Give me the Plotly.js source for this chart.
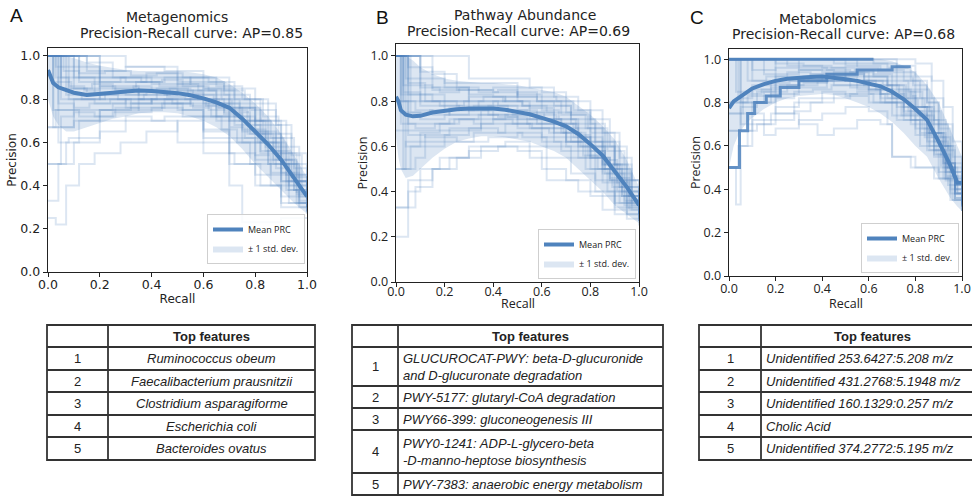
<!DOCTYPE html>
<html><head><meta charset="utf-8">
<script src="https://cdn.plot.ly/plotly-3.0.1.min.js"></script>
<style>html,body{margin:0;padding:0;background:#fff}#chart{width:972px;height:497px}</style>
</head><body><div id="chart"></div>
<script>
// ---------------- DATA ----------------
const panelLetters = ['A', 'B', 'C'];
const panelNames = ['Metagenomics', 'Pathway Abundance', 'Metabolomics'];
const apScores = [0.85, 0.69, 0.68];
const xTitle = 'Recall', yTitle = 'Precision';

// mean PR curve and +/- 1 std band
const recallA = [0,0.01,0.02,0.04,0.07,0.1,0.15,0.2,0.25,0.3,0.35,0.4,0.45,0.5,0.55,0.6,0.65,0.7,0.75,0.8,0.85,0.9,0.95,1.0];
const meanA  = [0.935,0.9,0.875,0.855,0.84,0.83,0.82,0.823,0.83,0.836,0.84,0.838,0.834,0.828,0.818,0.804,0.785,0.76,0.71,0.65,0.59,0.52,0.435,0.35];
const upperA = [1,1,1,1,1,0.99,0.97,0.955,0.945,0.935,0.93,0.93,0.93,0.93,0.925,0.915,0.9,0.87,0.83,0.78,0.72,0.64,0.54,0.44];
const lowerA = [0.8,0.76,0.72,0.68,0.65,0.65,0.67,0.69,0.71,0.72,0.735,0.74,0.74,0.735,0.72,0.7,0.67,0.63,0.57,0.5,0.44,0.38,0.32,0.27];

const recallB = [0,0.01,0.02,0.04,0.07,0.1,0.15,0.2,0.25,0.3,0.35,0.4,0.45,0.5,0.55,0.6,0.65,0.7,0.75,0.8,0.85,0.9,0.95,1.0];
const meanB  = [0.82,0.8,0.76,0.74,0.733,0.735,0.75,0.758,0.764,0.768,0.77,0.768,0.762,0.752,0.742,0.726,0.71,0.689,0.655,0.61,0.56,0.49,0.42,0.34];
const upperB = [1,1,1,1,0.98,0.95,0.92,0.9,0.89,0.885,0.88,0.88,0.875,0.87,0.86,0.85,0.84,0.82,0.78,0.74,0.69,0.63,0.54,0.42];
const lowerB = [0.64,0.55,0.5,0.46,0.47,0.5,0.55,0.59,0.62,0.635,0.645,0.645,0.64,0.63,0.62,0.6,0.58,0.55,0.5,0.45,0.4,0.34,0.3,0.26];

const recallC = [0,0.01,0.02,0.04,0.07,0.1,0.15,0.2,0.25,0.3,0.35,0.4,0.45,0.5,0.55,0.6,0.65,0.7,0.75,0.8,0.85,0.9,0.95,0.98,1.0];
const meanC  = [0.774,0.79,0.805,0.82,0.845,0.865,0.885,0.9,0.91,0.915,0.918,0.92,0.916,0.908,0.9,0.888,0.875,0.85,0.815,0.77,0.72,0.62,0.51,0.43,0.43];
const upperC = [1,1,1,1,1,1,1,1,1,1,1,1,1,1,1,1,1,0.99,0.97,0.94,0.88,0.8,0.68,0.6,0.55];
const lowerC = [0.5,0.55,0.6,0.65,0.7,0.73,0.77,0.8,0.82,0.83,0.835,0.84,0.835,0.82,0.8,0.78,0.75,0.71,0.66,0.6,0.55,0.45,0.36,0.32,0.3];

// individual cross-validation PR curves, [recall, precision] step points
const curvesA = [
  [[0,1],[0.15,0.93],[0.3,0.95],[0.5,0.9],[0.62,0.88],[0.72,0.8],[0.82,0.7],[0.9,0.55],[0.96,0.42],[1,0.42]],
  [[0,1],[0.05,0.8],[0.2,0.82],[0.35,0.85],[0.5,0.83],[0.6,0.78],[0.7,0.72],[0.8,0.6],[0.9,0.45],[0.97,0.33],[1,0.33]],
  [[0,0.5],[0.05,0.67],[0.1,0.75],[0.25,0.78],[0.4,0.8],[0.55,0.77],[0.65,0.7],[0.75,0.6],[0.85,0.5],[0.93,0.38],[0.97,0.3],[1,0.3]],
  [[0,1],[0.1,1],[0.2,0.9],[0.3,0.88],[0.45,0.9],[0.55,0.87],[0.68,0.82],[0.78,0.75],[0.88,0.62],[0.95,0.48],[1,0.4]],
  [[0,0.25],[0.03,0.22],[0.07,0.4],[0.12,0.5],[0.18,0.55],[0.28,0.6],[0.38,0.65],[0.5,0.7],[0.6,0.65],[0.7,0.55],[0.8,0.45],[0.9,0.35],[1,0.3]],
  [[0,0.33],[0.04,0.5],[0.1,0.6],[0.2,0.65],[0.3,0.7],[0.45,0.72],[0.6,0.62],[0.7,0.5],[0.8,0.4],[0.9,0.3],[1,0.27]],
  [[0,1],[0.02,0.67],[0.1,0.7],[0.2,0.75],[0.35,0.8],[0.5,0.8],[0.62,0.75],[0.72,0.68],[0.82,0.55],[0.9,0.42],[1,0.33]],
  [[0,1],[0.3,0.95],[0.45,0.93],[0.6,0.9],[0.7,0.85],[0.8,0.78],[0.88,0.68],[0.94,0.55],[1,0.45]],
  [[0,1],[0.05,0.85],[0.15,0.83],[0.3,0.84],[0.45,0.82],[0.58,0.8],[0.68,0.74],[0.78,0.64],[0.87,0.52],[0.95,0.38],[1,0.35]],
  [[0,1],[0.08,0.8],[0.18,0.78],[0.3,0.8],[0.42,0.85],[0.55,0.84],[0.65,0.78],[0.74,0.7],[0.84,0.58],[0.92,0.45],[1,0.37]],
  [[0,1],[0.02,0.75],[0.12,0.72],[0.25,0.74],[0.4,0.76],[0.52,0.72],[0.6,0.66],[0.7,0.6],[0.78,0.5],[0.86,0.4],[0.93,0.32],[1,0.28]],
  [[0,1],[0.2,0.9],[0.35,0.9],[0.5,0.88],[0.6,0.85],[0.7,0.78],[0.8,0.68],[0.9,0.5],[0.96,0.37],[1,0.37]],
  [[0,1],[0.1,0.95],[0.2,0.86],[0.35,0.82],[0.5,0.84],[0.6,0.82],[0.7,0.76],[0.8,0.65],[0.88,0.55],[0.94,0.42],[1,0.32]],
  [[0,1],[0.05,0.9],[0.2,0.85],[0.35,0.8],[0.5,0.75],[0.6,0.6],[0.7,0.4],[0.75,0.23],[0.85,0.23],[0.9,0.25],[1,0.25]],
  [[0,1],[0.04,0.6],[0.08,0.62],[0.2,0.7],[0.3,0.72],[0.4,0.7],[0.5,0.6],[0.6,0.55],[0.72,0.5],[0.82,0.4],[0.9,0.32],[1,0.28]],
  [[0,1],[0.15,0.97],[0.25,0.9],[0.4,0.87],[0.55,0.9],[0.65,0.86],[0.75,0.8],[0.85,0.7],[0.92,0.58],[0.97,0.45],[1,0.4]],
  [[0,0.67],[0.03,0.75],[0.1,0.8],[0.25,0.8],[0.4,0.78],[0.55,0.78],[0.65,0.72],[0.75,0.65],[0.85,0.5],[0.93,0.4],[1,0.34]],
  [[0,1],[0.05,1],[0.12,0.88],[0.22,0.88],[0.38,0.92],[0.5,0.86],[0.62,0.84],[0.72,0.76],[0.82,0.64],[0.9,0.5],[0.97,0.35],[1,0.3]],
  [[0,0.5],[0.03,0.5],[0.07,0.6],[0.12,0.7],[0.2,0.75],[0.32,0.78],[0.45,0.8],[0.6,0.72],[0.7,0.62],[0.8,0.52],[0.9,0.42],[1,0.36]],
  [[0,1],[0.1,0.85],[0.2,0.8],[0.3,0.76],[0.45,0.78],[0.55,0.8],[0.65,0.76],[0.75,0.7],[0.85,0.6],[0.92,0.5],[1,0.42]],
  [[0,1],[0.03,0.9],[0.08,0.86],[0.14,0.84],[0.2,0.86],[0.26,0.84],[0.33,0.86],[0.4,0.84],[0.47,0.85],[0.54,0.82],[0.6,0.8],[0.66,0.76],[0.72,0.72],[0.78,0.66],[0.84,0.6],[0.89,0.52],[0.94,0.44],[0.98,0.36],[1,0.36]],
  [[0,1],[0.06,0.93],[0.12,0.9],[0.2,0.88],[0.28,0.9],[0.36,0.88],[0.44,0.89],[0.52,0.86],[0.6,0.85],[0.67,0.8],[0.74,0.76],[0.8,0.7],[0.86,0.62],[0.91,0.52],[0.96,0.42],[1,0.38]],
  [[0,1],[0.04,0.78],[0.1,0.76],[0.16,0.78],[0.24,0.8],[0.32,0.78],[0.4,0.8],[0.48,0.78],[0.56,0.76],[0.63,0.72],[0.7,0.67],[0.76,0.62],[0.82,0.56],[0.88,0.48],[0.93,0.4],[0.97,0.32],[1,0.3]],
  [[0,1],[0.02,0.88],[0.09,0.85],[0.17,0.87],[0.25,0.85],[0.34,0.88],[0.43,0.86],[0.5,0.87],[0.58,0.84],[0.65,0.8],[0.71,0.75],[0.77,0.7],[0.83,0.62],[0.88,0.56],[0.93,0.46],[0.97,0.4],[1,0.34]],
  [[0,1],[0.07,0.82],[0.13,0.8],[0.22,0.83],[0.3,0.82],[0.38,0.84],[0.46,0.81],[0.53,0.8],[0.61,0.77],[0.68,0.73],[0.75,0.66],[0.81,0.6],[0.87,0.5],[0.92,0.42],[0.96,0.36],[1,0.3]],
  [[0,1],[0.12,0.92],[0.22,0.93],[0.32,0.91],[0.42,0.92],[0.52,0.9],[0.6,0.88],[0.68,0.84],[0.76,0.8],[0.83,0.72],[0.89,0.64],[0.94,0.54],[0.98,0.44],[1,0.44]],
  [[0,0.67],[0.05,0.72],[0.1,0.74],[0.18,0.72],[0.26,0.76],[0.35,0.75],[0.44,0.78],[0.52,0.75],[0.6,0.72],[0.67,0.66],[0.73,0.6],[0.8,0.54],[0.86,0.46],[0.92,0.38],[0.96,0.32],[1,0.28]],
  [[0,1],[0.03,0.95],[0.1,0.9],[0.18,0.82],[0.27,0.8],[0.37,0.82],[0.47,0.84],[0.56,0.82],[0.64,0.78],[0.7,0.7],[0.77,0.64],[0.84,0.56],[0.9,0.46],[0.95,0.38],[1,0.34]]
];
const curvesB = [
  [[0,1],[0.03,0.5],[0.06,0.6],[0.12,0.65],[0.22,0.68],[0.35,0.7],[0.5,0.68],[0.6,0.64],[0.7,0.6],[0.8,0.5],[0.9,0.38],[1,0.3]],
  [[0,0.33],[0.05,0.45],[0.1,0.5],[0.18,0.55],[0.3,0.6],[0.45,0.62],[0.55,0.55],[0.62,0.45],[0.75,0.4],[0.85,0.32],[0.95,0.28],[1,0.27]],
  [[0,0.2],[0.05,0.4],[0.1,0.45],[0.15,0.5],[0.25,0.55],[0.35,0.6],[0.5,0.6],[0.62,0.55],[0.72,0.48],[0.82,0.4],[0.9,0.33],[1,0.3]],
  [[0,1],[0.05,0.83],[0.15,0.8],[0.3,0.82],[0.45,0.8],[0.55,0.77],[0.65,0.72],[0.75,0.64],[0.85,0.52],[0.93,0.4],[1,0.33]],
  [[0,1],[0.1,0.93],[0.2,0.88],[0.35,0.88],[0.5,0.86],[0.6,0.84],[0.7,0.8],[0.8,0.72],[0.88,0.6],[0.95,0.45],[1,0.4]],
  [[0,0.67],[0.25,0.67],[0.35,0.72],[0.45,0.74],[0.55,0.72],[0.65,0.68],[0.75,0.6],[0.85,0.5],[0.93,0.38],[1,0.32]],
  [[0,1],[0.02,0.75],[0.1,0.72],[0.2,0.74],[0.35,0.76],[0.48,0.74],[0.58,0.72],[0.68,0.66],[0.78,0.58],[0.86,0.48],[0.94,0.36],[1,0.3]],
  [[0,0.8],[0.15,0.8],[0.25,0.78],[0.4,0.8],[0.52,0.78],[0.62,0.75],[0.72,0.7],[0.82,0.6],[0.9,0.48],[0.97,0.36],[1,0.36]],
  [[0,1],[0.05,0.95],[0.15,0.85],[0.28,0.85],[0.4,0.84],[0.5,0.83],[0.6,0.8],[0.7,0.75],[0.8,0.66],[0.9,0.52],[0.97,0.4],[1,0.38]],
  [[0,1],[0.04,0.6],[0.1,0.62],[0.2,0.65],[0.3,0.68],[0.42,0.66],[0.52,0.64],[0.62,0.6],[0.72,0.55],[0.82,0.45],[0.9,0.35],[1,0.28]],
  [[0,1],[0.1,0.78],[0.2,0.76],[0.32,0.78],[0.45,0.78],[0.55,0.75],[0.65,0.7],[0.75,0.62],[0.85,0.52],[0.92,0.42],[1,0.34]],
  [[0,1],[0.3,0.9],[0.42,0.9],[0.55,0.86],[0.65,0.82],[0.75,0.76],[0.85,0.66],[0.92,0.55],[0.97,0.45],[1,0.45]],
  [[0,0.5],[0.08,0.55],[0.12,0.6],[0.2,0.62],[0.32,0.66],[0.45,0.7],[0.55,0.68],[0.65,0.62],[0.75,0.55],[0.85,0.44],[0.92,0.35],[1,0.3]],
  [[0,1],[0.02,0.83],[0.12,0.83],[0.2,0.8],[0.3,0.76],[0.4,0.72],[0.5,0.7],[0.6,0.68],[0.7,0.62],[0.8,0.55],[0.88,0.45],[0.95,0.35],[1,0.3]],
  [[0,1],[0.03,0.87],[0.15,0.86],[0.3,0.8],[0.45,0.82],[0.58,0.8],[0.68,0.74],[0.78,0.68],[0.87,0.58],[0.94,0.45],[1,0.38]],
  [[0,0.8],[0.05,0.7],[0.12,0.7],[0.22,0.72],[0.35,0.74],[0.5,0.72],[0.6,0.7],[0.7,0.64],[0.8,0.55],[0.88,0.45],[0.95,0.33],[1,0.27]],
  [[0,1],[0.15,0.92],[0.25,0.85],[0.4,0.86],[0.5,0.8],[0.6,0.78],[0.72,0.72],[0.82,0.62],[0.9,0.5],[0.96,0.38],[1,0.33]],
  [[0,1],[0.05,0.65],[0.12,0.64],[0.25,0.62],[0.38,0.64],[0.5,0.66],[0.6,0.62],[0.68,0.58],[0.78,0.5],[0.87,0.4],[0.95,0.3],[1,0.25]],
  [[0,0.33],[0.08,0.42],[0.15,0.5],[0.22,0.55],[0.3,0.58],[0.42,0.6],[0.5,0.58],[0.6,0.5],[0.7,0.45],[0.8,0.38],[0.9,0.3],[1,0.27]],
  [[0,1],[0.03,0.8],[0.08,0.76],[0.15,0.74],[0.22,0.77],[0.3,0.76],[0.38,0.78],[0.46,0.76],[0.54,0.75],[0.61,0.72],[0.68,0.7],[0.74,0.65],[0.8,0.6],[0.86,0.52],[0.91,0.44],[0.96,0.36],[1,0.32]],
  [[0,1],[0.04,0.9],[0.1,0.86],[0.18,0.84],[0.26,0.86],[0.34,0.84],[0.42,0.85],[0.5,0.82],[0.58,0.8],[0.65,0.78],[0.72,0.74],[0.79,0.68],[0.85,0.6],[0.9,0.52],[0.95,0.42],[1,0.36]],
  [[0,1],[0.02,0.7],[0.08,0.68],[0.16,0.7],[0.24,0.72],[0.32,0.7],[0.4,0.72],[0.48,0.7],[0.56,0.68],[0.63,0.66],[0.7,0.62],[0.77,0.56],[0.83,0.5],[0.89,0.42],[0.94,0.34],[1,0.3]],
  [[0,1],[0.05,0.88],[0.12,0.8],[0.2,0.78],[0.28,0.8],[0.36,0.82],[0.44,0.8],[0.52,0.78],[0.6,0.76],[0.67,0.72],[0.74,0.68],[0.8,0.62],[0.86,0.54],[0.91,0.46],[0.96,0.38],[1,0.34]],
  [[0,1],[0.06,0.75],[0.14,0.76],[0.22,0.74],[0.3,0.77],[0.38,0.74],[0.46,0.73],[0.54,0.7],[0.62,0.7],[0.69,0.66],[0.76,0.6],[0.82,0.55],[0.88,0.46],[0.93,0.38],[0.97,0.32],[1,0.29]],
  [[0,1],[0.1,0.9],[0.2,0.86],[0.3,0.83],[0.4,0.82],[0.5,0.84],[0.58,0.82],[0.66,0.8],[0.73,0.76],[0.8,0.7],[0.86,0.62],[0.92,0.5],[0.97,0.4],[1,0.36]],
  [[0,0.5],[0.04,0.62],[0.1,0.66],[0.18,0.7],[0.26,0.72],[0.34,0.74],[0.42,0.73],[0.5,0.72],[0.58,0.7],[0.65,0.66],[0.72,0.62],[0.79,0.56],[0.85,0.48],[0.91,0.4],[0.96,0.32],[1,0.28]],
  [[0,1],[0.03,0.84],[0.1,0.8],[0.18,0.78],[0.26,0.76],[0.34,0.8],[0.42,0.78],[0.5,0.76],[0.58,0.74],[0.66,0.7],[0.73,0.64],[0.8,0.58],[0.86,0.5],[0.92,0.42],[0.97,0.34],[1,0.31]]
];
const curvesC = [
  [[0,1],[0.3,1],[0.5,0.97],[0.65,0.95],[0.75,0.9],[0.82,0.82],[0.88,0.72],[0.93,0.6],[0.97,0.45],[1,0.4]],
  [[0,1],[0.05,0.8],[0.12,0.85],[0.2,0.88],[0.3,0.9],[0.45,0.88],[0.55,0.86],[0.65,0.82],[0.75,0.75],[0.85,0.62],[0.92,0.5],[0.97,0.38],[1,0.35]],
  [[0,0.67],[0.05,0.75],[0.1,0.8],[0.18,0.84],[0.3,0.87],[0.42,0.9],[0.55,0.88],[0.65,0.84],[0.75,0.78],[0.85,0.66],[0.92,0.52],[0.97,0.4],[1,0.33]],
  [[0,1],[0.6,1],[0.72,0.97],[0.8,0.92],[0.87,0.82],[0.92,0.7],[0.96,0.55],[1,0.45]],
  [[0,0.5],[0.04,0.6],[0.08,0.67],[0.12,0.7],[0.2,0.72],[0.28,0.76],[0.35,0.8],[0.45,0.84],[0.55,0.85],[0.65,0.8],[0.75,0.72],[0.85,0.58],[0.92,0.45],[0.97,0.35],[1,0.3]],
  [[0,1],[0.1,0.9],[0.2,0.92],[0.35,0.93],[0.5,0.9],[0.6,0.88],[0.7,0.83],[0.8,0.74],[0.88,0.62],[0.94,0.5],[1,0.42]],
  [[0,1],[0.2,0.75],[0.3,0.7],[0.38,0.65],[0.45,0.68],[0.55,0.72],[0.65,0.7],[0.7,0.55],[0.8,0.5],[0.9,0.45],[0.95,0.35],[1,0.32]],
  [[0,1],[0.4,1],[0.55,0.98],[0.68,0.96],[0.78,0.9],[0.85,0.8],[0.9,0.68],[0.95,0.52],[1,0.4]],
  [[0,0.75],[0.06,0.8],[0.15,0.85],[0.25,0.88],[0.38,0.9],[0.5,0.9],[0.6,0.86],[0.7,0.8],[0.78,0.7],[0.86,0.58],[0.93,0.45],[1,0.38]],
  [[0,1],[0.15,0.93],[0.3,0.95],[0.45,0.94],[0.58,0.92],[0.68,0.88],[0.76,0.82],[0.84,0.72],[0.9,0.6],[0.95,0.48],[1,0.36]],
  [[0,0.67],[0.1,0.72],[0.2,0.78],[0.3,0.82],[0.4,0.85],[0.5,0.83],[0.6,0.8],[0.7,0.74],[0.8,0.65],[0.88,0.55],[0.94,0.42],[1,0.35]],
  [[0,1],[0.7,1],[0.8,0.98],[0.87,0.9],[0.92,0.78],[0.96,0.62],[1,0.48]],
  [[0,1],[0.03,0.85],[0.1,0.88],[0.2,0.9],[0.32,0.92],[0.45,0.93],[0.58,0.9],[0.68,0.86],[0.78,0.78],[0.86,0.66],[0.92,0.52],[0.97,0.4],[1,0.35]],
  [[0,0.5],[0.03,0.33],[0.05,0.6],[0.1,0.7],[0.18,0.75],[0.28,0.8],[0.4,0.82],[0.52,0.84],[0.62,0.8],[0.72,0.72],[0.82,0.6],[0.9,0.48],[0.96,0.35],[1,0.3]],
  [[0,1],[0.25,0.97],[0.4,0.96],[0.5,0.94],[0.62,0.92],[0.72,0.86],[0.8,0.78],[0.87,0.66],[0.93,0.52],[0.97,0.42],[1,0.38]],
  [[0,1],[0.05,0.7],[0.1,0.75],[0.15,0.65],[0.2,0.68],[0.3,0.72],[0.4,0.75],[0.5,0.78],[0.6,0.76],[0.68,0.7],[0.7,0.55],[0.78,0.5],[0.88,0.45],[0.95,0.38],[1,0.33]],
  [[0,1],[0.5,1],[0.62,0.98],[0.72,0.94],[0.8,0.86],[0.86,0.76],[0.91,0.64],[0.95,0.5],[0.98,0.38],[1,0.32]],
  [[0,0.8],[0.08,0.83],[0.18,0.87],[0.3,0.9],[0.4,0.92],[0.5,0.92],[0.6,0.9],[0.7,0.85],[0.8,0.76],[0.87,0.64],[0.93,0.5],[0.97,0.38],[1,0.32]],
  [[0,1],[0.1,0.95],[0.2,0.96],[0.3,0.95],[0.4,0.94],[0.5,0.93],[0.58,0.9],[0.66,0.88],[0.73,0.84],[0.79,0.78],[0.85,0.7],[0.9,0.6],[0.94,0.5],[0.97,0.42],[1,0.38]],
  [[0,1],[0.04,0.82],[0.1,0.86],[0.18,0.89],[0.26,0.9],[0.34,0.91],[0.42,0.92],[0.5,0.9],[0.58,0.88],[0.65,0.84],[0.72,0.78],[0.78,0.72],[0.84,0.64],[0.89,0.56],[0.93,0.46],[0.97,0.36],[1,0.3]],
  [[0,1],[0.2,0.98],[0.32,0.97],[0.44,0.96],[0.54,0.95],[0.62,0.93],[0.7,0.9],[0.77,0.85],[0.83,0.78],[0.88,0.7],[0.92,0.6],[0.96,0.48],[1,0.4]],
  [[0,0.75],[0.05,0.78],[0.12,0.8],[0.2,0.82],[0.28,0.85],[0.36,0.86],[0.44,0.88],[0.52,0.87],[0.6,0.84],[0.67,0.8],[0.74,0.74],[0.8,0.68],[0.86,0.6],[0.91,0.5],[0.95,0.4],[1,0.34]],
  [[0,1],[0.08,0.9],[0.16,0.92],[0.25,0.94],[0.35,0.93],[0.45,0.92],[0.55,0.9],[0.63,0.86],[0.7,0.82],[0.77,0.76],[0.83,0.68],[0.88,0.58],[0.93,0.48],[0.97,0.38],[1,0.33]],
  [[0,1],[0.45,0.98],[0.55,0.96],[0.64,0.94],[0.72,0.92],[0.79,0.88],[0.85,0.8],[0.9,0.7],[0.94,0.58],[0.97,0.46],[1,0.42]],
  [[0,0.8],[0.06,0.84],[0.14,0.86],[0.22,0.88],[0.32,0.89],[0.42,0.9],[0.52,0.88],[0.6,0.86],[0.68,0.82],[0.75,0.76],[0.82,0.66],[0.88,0.56],[0.93,0.44],[0.97,0.36],[1,0.32]],
  [[0,1],[0.3,0.96],[0.42,0.95],[0.52,0.94],[0.6,0.92],[0.68,0.88],[0.75,0.82],[0.81,0.74],[0.86,0.66],[0.91,0.56],[0.95,0.46],[0.98,0.38],[1,0.36]]
];
// heavily overlapping curves in panel C that appear as dark lines
const overlapC = [
  [[0,1],[0.62,1]],
  [[0,0.5],[0.045,0.67],[0.08,0.75],[0.11,0.8],[0.16,0.83],[0.22,0.87],[0.3,0.9],[0.42,0.93],[0.55,0.95],[0.7,0.965],[0.78,0.965]]
];

// tables
const ranks = ['1', '2', '3', '4', '5'];
const tableHeader = 'Top features';
const featuresA = ['Ruminococcus obeum', 'Faecalibacterium prausnitzii', 'Clostridium asparagiforme', 'Escherichia coli', 'Bacteroides ovatus'];
const featuresB = ['GLUCUROCAT-PWY: beta-D-glucuronide<br>and D-glucuronate degradation', 'PWY-5177: glutaryl-CoA degradation', 'PWY66-399: gluconeogenesis III', 'PWY0-1241: ADP-L-glycero-beta<br>-D-manno-heptose biosynthesis', 'PWY-7383: anaerobic energy metabolism'];
const featuresC = ['Unidentified 253.6427:5.208 m/z', 'Unidentified 431.2768:5.1948 m/z', 'Unidentified 160.1329:0.257 m/z', 'Cholic Acid', 'Unidentified 374.2772:5.195 m/z'];

// ---------------- BUILD ----------------
const W = 972, H = 497;
const px = v => v / W, py = v => 1 - v / H;
const meanColor = 'rgb(79,131,189)';
const thinColor = 'rgba(79,131,189,0.2)';
const bandColor = 'rgba(79,131,189,0.2)';

const panels = [
  {recall: recallA, mean: meanA, up: upperA, lo: lowerA, curves: curvesA, extra: [], xa: 'x', ya: 'y', leg: 'legend'},
  {recall: recallB, mean: meanB, up: upperB, lo: lowerB, curves: curvesB, extra: [], xa: 'x2', ya: 'y2', leg: 'legend2'},
  {recall: recallC, mean: meanC, up: upperC, lo: lowerC, curves: curvesC, extra: overlapC, xa: 'x3', ya: 'y3', leg: 'legend3'}
];

const traces = [];
panels.forEach(p => {
  traces.push({x: p.recall, y: p.lo, xaxis: p.xa, yaxis: p.ya, mode: 'lines', line: {width: 0, color: bandColor}, showlegend: false, hoverinfo: 'skip'});
  traces.push({x: p.recall, y: p.up, xaxis: p.xa, yaxis: p.ya, mode: 'lines', fill: 'tonexty', fillcolor: bandColor, line: {width: 0, color: bandColor}, name: '\u00b1 1 std. dev.', legend: p.leg, hoverinfo: 'skip'});
  p.curves.forEach(c => traces.push({x: c.map(q => q[0]), y: c.map(q => q[1]), xaxis: p.xa, yaxis: p.ya, mode: 'lines', line: {shape: 'hv', width: 2, color: thinColor}, showlegend: false, hoverinfo: 'skip'}));
  p.extra.forEach(c => traces.push({x: c.map(q => q[0]), y: c.map(q => q[1]), xaxis: p.xa, yaxis: p.ya, mode: 'lines', line: {shape: 'hv', width: 3, color: 'rgba(79,131,189,0.85)'}, showlegend: false, hoverinfo: 'skip'}));
  traces.push({x: p.recall, y: p.mean, xaxis: p.xa, yaxis: p.ya, mode: 'lines', line: {width: 4, color: meanColor}, name: 'Mean PRC', legend: p.leg, hoverinfo: 'skip'});
});

function axisBase(fontFam, size) {
  return {showline: true, mirror: true, linecolor: '#222', linewidth: 1.3, ticks: 'outside', ticklen: 4,
          tickwidth: 1, tickcolor: '#222', showgrid: false, zeroline: false, tick0: 0, dtick: 0.2,
          tickformat: '.1f', tickfont: {family: fontFam, size: size, color: '#222'}, automargin: false};
}
const fA = 'DejaVu Sans', fB = 'Open Sans';
const layout = {
  width: W, height: H, margin: {l: 0, r: 0, t: 0, b: 0}, paper_bgcolor: '#fff', plot_bgcolor: '#fff',
  hovermode: false,
  xaxis:  Object.assign(axisBase(fA, 12.5), {domain: [px(48), px(307)], range: [0, 1], anchor: 'y', ticklabelstandoff: -3, title: {text: xTitle, font: {family: fA, size: 12, color: '#222'}, standoff: 0}}),
  yaxis:  Object.assign(axisBase(fA, 12.5), {domain: [py(272), py(48)], range: [0, 1.037], anchor: 'x', title: {text: yTitle, font: {family: fA, size: 12, color: '#222'}, standoff: 1}}),
  xaxis2: Object.assign(axisBase(fB, 12.5), {domain: [px(396), px(639)], range: [0, 1], anchor: 'y2', ticklabelstandoff: -6}),
  yaxis2: Object.assign(axisBase(fB, 12.5), {domain: [py(282), py(44)], range: [0, 1.053], anchor: 'x2', title: {text: yTitle, font: {family: fB, size: 12.5, color: '#222'}, standoff: 0}}),
  xaxis3: Object.assign(axisBase(fB, 12.5), {domain: [px(729), px(962)], range: [0, 1], anchor: 'y3', ticklabelstandoff: -3}),
  yaxis3: Object.assign(axisBase(fB, 12.5), {domain: [py(276), py(49)], range: [0, 1.047], anchor: 'x3', title: {text: yTitle, font: {family: fB, size: 12.5, color: '#222'}, standoff: 0}}),
  annotations: [], shapes: [],
  showlegend: true
};
// x-axis titles of B and C sit tight against the tick labels, as in the source figure
layout.annotations.push({xref: 'x2 domain', yref: 'paper', x: 0.5, y: py(303), text: xTitle, showarrow: false, xanchor: 'center', yanchor: 'middle', font: {family: fB, size: 12.5, color: '#222'}});
layout.annotations.push({xref: 'x3 domain', yref: 'paper', x: 0.5, y: py(303), text: xTitle, showarrow: false, xanchor: 'center', yanchor: 'middle', font: {family: fB, size: 12.5, color: '#222'}});

const legBase = {xanchor: 'right', yanchor: 'bottom', bgcolor: 'rgba(255,255,255,0.85)', bordercolor: '#cfcfcf', borderwidth: 1,
                 font: {family: 'Open Sans', size: 9, color: '#222'}, tracegroupgap: 0, itemwidth: 30, traceorder: 'reversed'};
layout.legend  = Object.assign({}, legBase, {x: px(305), y: py(264)});
layout.legend2 = Object.assign({}, legBase, {x: px(636), y: py(279)});
layout.legend3 = Object.assign({}, legBase, {x: px(959), y: py(273)});

const titlePos = [
  {letter: [16, 16], l1: [177, 17], l2: [191, 33]},
  {letter: [382, 17], l1: [525, 15], l2: [518, 31]},
  {letter: [697, 17], l1: [827, 19], l2: [843, 34]}
];
panelNames.forEach((n, i) => {
  const t = titlePos[i];
  layout.annotations.push({xref: 'paper', yref: 'paper', x: px(t.letter[0]), y: py(t.letter[1]), text: panelLetters[i], showarrow: false, xanchor: 'center', yanchor: 'middle', font: {family: 'Liberation Sans', size: 19, color: '#111'}});
  layout.annotations.push({xref: 'paper', yref: 'paper', x: px(t.l1[0]), y: py(t.l1[1]), text: n, showarrow: false, xanchor: 'center', yanchor: 'middle', font: {family: 'DejaVu Sans', size: 14, color: '#222'}});
  layout.annotations.push({xref: 'paper', yref: 'paper', x: px(t.l2[0]), y: py(t.l2[1]), text: 'Precision-Recall curve: AP=' + apScores[i].toFixed(2), showarrow: false, xanchor: 'center', yanchor: 'middle', font: {family: 'DejaVu Sans', size: 14, color: '#222'}});
});

// tables drawn as grid shapes + text annotations
const tblFont = {family: 'Liberation Sans, Arial, sans-serif', size: 13, color: '#222'};
const tableGeom = [
  {feats: featuresA, x0: 47, x1: 315, xd: 108, rows: [325, 347, 370, 392, 415, 437, 460], align: 'center'},
  {feats: featuresB, x0: 352, x1: 663, xd: 398, rows: [325, 347, 386, 408, 430, 473, 495], align: 'left'},
  {feats: featuresC, x0: 699, x1: 990, xd: 761, rows: [325, 347, 370, 392, 415, 437, 460], align: 'left'}
];
const ln = {color: '#333', width: 1.8};
tableGeom.forEach(t => {
  const top = t.rows[0], bot = t.rows[t.rows.length - 1];
  layout.shapes.push({type: 'rect', xref: 'paper', yref: 'paper', x0: px(t.x0), x1: px(t.x1), y0: py(bot), y1: py(top), line: ln, fillcolor: 'rgba(0,0,0,0)'});
  layout.shapes.push({type: 'line', xref: 'paper', yref: 'paper', x0: px(t.xd), x1: px(t.xd), y0: py(bot), y1: py(top), line: ln});
  t.rows.slice(1, -1).forEach(r => layout.shapes.push({type: 'line', xref: 'paper', yref: 'paper', x0: px(t.x0), x1: px(t.x1), y0: py(r), y1: py(r), line: ln}));
  const xRight = Math.min(t.x1, 972);
  layout.annotations.push({xref: 'paper', yref: 'paper', x: px((t.xd + (t.x1 > 972 ? 983 : t.x1)) / 2), y: py((t.rows[0] + t.rows[1]) / 2),
    text: '<b>' + tableHeader + '</b>', showarrow: false, xanchor: 'center', yanchor: 'middle', font: tblFont});
  t.feats.forEach((f, i) => {
    const yc = py((t.rows[i + 1] + t.rows[i + 2]) / 2);
    layout.annotations.push({xref: 'paper', yref: 'paper', x: px((t.x0 + t.xd) / 2), y: yc, text: ranks[i], showarrow: false, xanchor: 'center', yanchor: 'middle', font: tblFont});
    const txt = f.split('<br>').map(s => '<i>' + s + '</i>').join('<br>');
    if (t.align === 'center') {
      layout.annotations.push({xref: 'paper', yref: 'paper', x: px((t.xd + xRight) / 2), y: yc, text: txt, showarrow: false, xanchor: 'center', yanchor: 'middle', font: tblFont});
    } else {
      layout.annotations.push({xref: 'paper', yref: 'paper', x: px(t.xd + 3), y: yc, text: txt, showarrow: false, xanchor: 'left', yanchor: 'middle', align: 'left', font: tblFont});
    }
  });
});

Plotly.newPlot('chart', traces, layout, {displayModeBar: false, staticPlot: true});
</script>
</body></html>
